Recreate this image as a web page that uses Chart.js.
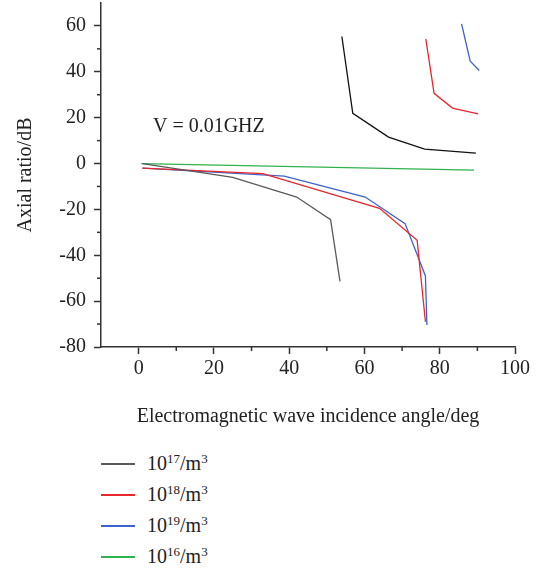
<!DOCTYPE html>
<html>
<head>
<meta charset="utf-8">
<script src="https://cdn.jsdelivr.net/npm/chart.js@4.4.1/dist/chart.umd.min.js"></script>
<style>
    body { margin: 0; background: #fff; }
    #wrap { position: relative; width: 543px; height: 571px; }
    #legend { position: absolute; left: 101px; top: 448px; font-family: "Liberation Serif", serif; font-size: 20px; color: #222; }
    #legend .item { height: 31px; display: flex; align-items: center; }
    #legend .swatch { width: 34px; height: 2px; margin-right: 12px; }
    #legend sup { font-size: 13px; vertical-align: 7px; line-height: 0; }
</style>
</head>
<body>
<div id="wrap">
    <canvas id="chart" width="543" height="440" style="width:543px;height:440px;display:block"></canvas>
    <div id="legend"></div>
</div>
<script>
// (angle in deg, axial ratio in dB)
let angles17 = [1, 25, 42, 51, 53.5];
let ar17 = [0, -6, -14.6, -24.5, -51.4];
let angles17Up = [54, 56.9, 66.4, 76, 89.6];
let ar17Up = [55.4, 21.9, 11.5, 6.3, 4.5];

let angles18 = [1, 33, 64, 74, 76.2];
let ar18 = [-2, -4.4, -19.5, -33.5, -69];
let angles18Up = [76.3, 78.5, 83.4, 90.2];
let ar18Up = [54.3, 30.6, 24.2, 21.7];

let angles19 = [1, 38.7, 60.2, 70.8, 76.2, 76.6];
let ar19 = [-2, -5.5, -14.6, -26.2, -49, -70.4];
let angles19Up = [85.8, 88.1, 90.5];
let ar19Up = [60.9, 44.6, 40.6];

let angles16 = [0.7, 89.1];
let ar16 = [0, -2.9];

let xTicks = [0, 20, 40, 60, 80, 100];
let yTicks = [-80, -60, -40, -20, 0, 20, 40, 60];

let fontFamily = '"Liberation Serif", "Times New Roman", serif';

function pts(xs, ys) {
    return xs.map(function (x, i) { return { x: x, y: ys[i] }; });
}

function series(label, xs, ys, color, inLegend) {
    return {
        label: label,
        data: pts(xs, ys),
        borderColor: color,
        backgroundColor: color,
        borderWidth: 1.3,
        pointRadius: 0,
        showLine: true,
        fill: false,
        inLegend: inLegend
    };
}

// minor ticks + the "V = 0.01GHZ" note
let extrasPlugin = {
    id: 'extras',
    afterDraw: function (chart) {
        let ctx = chart.ctx;
        let xs = chart.scales.x, ys = chart.scales.y;
        ctx.save();
        ctx.strokeStyle = '#333';
        ctx.lineWidth = 1.5;
        [10, 30, 50, 70, 90].forEach(function (v) {
            let px = xs.getPixelForValue(v);
            ctx.beginPath();
            ctx.moveTo(px, ys.bottom);
            ctx.lineTo(px, ys.bottom + 4);
            ctx.stroke();
        });
        [-70, -50, -30, -10, 10, 30, 50].forEach(function (v) {
            let py = ys.getPixelForValue(v);
            ctx.beginPath();
            ctx.moveTo(xs.left, py);
            ctx.lineTo(xs.left - 4, py);
            ctx.stroke();
        });
        ctx.fillStyle = '#222';
        ctx.font = '20px ' + fontFamily;
        ctx.textAlign = 'left';
        ctx.textBaseline = 'middle';
        ctx.fillText('V = 0.01GHZ', xs.getPixelForValue(3.8), ys.getPixelForValue(16));
        ctx.restore();
    }
};

let chart = new Chart(document.getElementById('chart'), {
    type: 'scatter',
    data: {
        datasets: [
            series('10^17/m^3', angles17, ar17, '#5a5a5a', true),
            series('10^18/m^3', angles18, ar18, '#e8262b', true),
            series('10^19/m^3', angles19, ar19, '#3d63cc', true),
            series('10^16/m^3', angles16, ar16, '#2fb34e', true),
            series('', angles17Up, ar17Up, '#111111', false),
            series('', angles18Up, ar18Up, '#e8262b', false),
            series('', angles19Up, ar19Up, '#3d63cc', false)
        ]
    },
    options: {
        responsive: false,
        animation: false,
        layout: { padding: { top: 3, right: 28, left: 0, bottom: 0 } },
        plugins: {
            legend: { display: false },
            tooltip: { enabled: false }
        },
        scales: {
            x: {
                type: 'linear',
                min: -10,
                max: 100,
                afterBuildTicks: function (scale) {
                    scale.ticks = xTicks.map(function (v) { return { value: v }; });
                },
                afterFit: function (scale) {
                    scale.height = 93;
                    scale.paddingLeft = 0;
                    scale.paddingRight = 0;
                },
                grid: { drawOnChartArea: false, tickLength: 7, tickColor: '#333', tickWidth: 1.5 },
                border: { color: '#333', width: 1.5 },
                ticks: { color: '#222', font: { family: fontFamily, size: 20 }, padding: 3 },
                title: {
                    display: true,
                    text: 'Electromagnetic wave incidence angle/deg',
                    color: '#222',
                    font: { family: fontFamily, size: 20 },
                    padding: { top: 0, bottom: 11 }
                }
            },
            y: {
                type: 'linear',
                min: -80,
                max: 70,
                afterBuildTicks: function (scale) {
                    scale.ticks = yTicks.map(function (v) { return { value: v }; });
                },
                afterFit: function (scale) {
                    scale.width = 101;
                    scale.paddingTop = 0;
                    scale.paddingBottom = 0;
                },
                grid: { drawOnChartArea: false, tickLength: 7, tickColor: '#333', tickWidth: 1.5 },
                border: { color: '#333', width: 1.5 },
                ticks: { color: '#222', font: { family: fontFamily, size: 20 }, padding: 8 },
                title: {
                    display: true,
                    text: 'Axial ratio/dB',
                    color: '#222',
                    font: { family: fontFamily, size: 20 },
                    padding: { top: 14, bottom: 4 }
                }
            }
        }
    },
    plugins: [extrasPlugin]
});

// legend below the chart, one row per series
let legendEl = document.getElementById('legend');
chart.data.datasets.forEach(function (ds) {
    if (!ds.inLegend) return;
    let exp = ds.label.split('/')[0].split('^')[1];
    let row = document.createElement('div');
    row.className = 'item';
    row.innerHTML = '<span class="swatch" style="background-color:' + ds.borderColor + '"></span>' +
        '<span>10<sup>' + exp + '</sup>/m<sup>3</sup></span>';
    legendEl.appendChild(row);
});
</script>
</body>
</html>
